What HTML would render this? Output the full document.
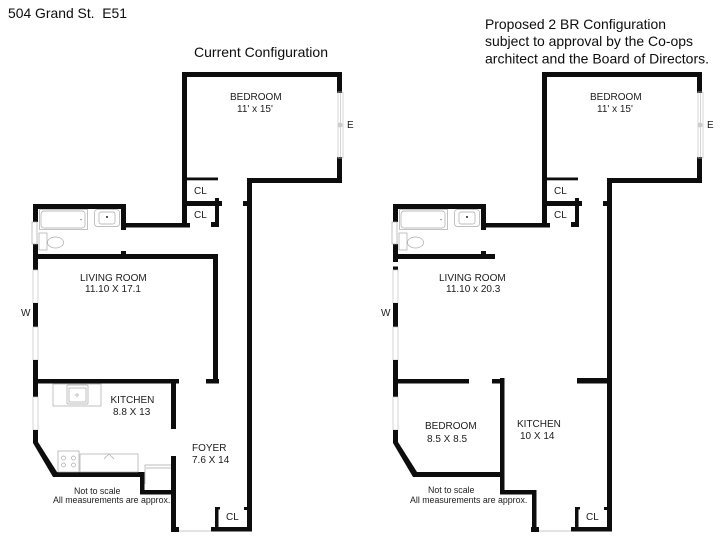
<!DOCTYPE html>
<html lang="en">
<head>
<meta charset="utf-8">
<title>504 Grand St. E51</title>
<style>
html,body{margin:0;padding:0;background:#fff;width:720px;height:540px;overflow:hidden}
svg{display:block}
text{font-family:"Liberation Sans",Arial,sans-serif;fill:#111}
.t{font-size:14px;fill:#0c0c0c}
.r{font-size:10px;fill:#1c1c1c}
.s{font-size:8.8px;fill:#1c1c1c}
.w{fill:#0a0a0a}
.f{fill:none;stroke:#a9a9a9;stroke-width:.7}
.g{fill:none;stroke:#c4c4c4;stroke-width:.7}
</style>
</head>
<body>
<svg width="720" height="540" viewBox="0 0 720 540" xmlns="http://www.w3.org/2000/svg">
<defs>
<filter id="b" filterUnits="userSpaceOnUse" x="0" y="0" width="720" height="540"><feGaussianBlur stdDeviation="0.35"/></filter>
<g id="common">
  <!-- bedroom -->
  <rect class="w" x="182" y="72" width="160" height="5"/>
  <rect class="w" x="182" y="72" width="5" height="155"/>
  <rect class="w" x="337" y="72" width="5" height="21"/>
  <rect class="w" x="337" y="157" width="5" height="26"/>
  <rect class="w" x="247" y="178" width="95" height="5"/>
  <rect class="w" x="247" y="178" width="5" height="353"/>
  <rect class="w" x="243" y="201" width="5" height="5"/>
  <rect class="w" x="187" y="177.500" width="31" height="2.800"/>
  <rect class="w" x="187" y="201" width="35" height="5"/>
  <rect class="w" x="215" y="198" width="4" height="29"/>
  <rect class="w" x="211" y="222" width="8" height="5"/>
  <rect class="w" x="121" y="223" width="69" height="4.500"/>
  <!-- east window -->
  <rect class="g" x="338" y="92" width="5" height="66"/>
  <line class="g" x1="340.500" y1="93" x2="340.500" y2="157"/>
  <circle cx="340" cy="125" r="2.500" fill="#ccc"/>
  <!-- bath -->
  <rect class="w" x="33" y="204" width="93" height="5"/>
  <rect class="w" x="121" y="204" width="5" height="26"/>
  <rect class="w" x="33" y="204" width="5" height="18"/>
  <rect class="w" x="33" y="244" width="5" height="26"/>
  <rect class="w" x="121" y="251" width="5" height="4"/>
  <rect class="f" x="39.500" y="209.500" width="48" height="20"/>
  <rect class="f" x="41" y="211" width="44" height="17" rx="3"/>
  <circle cx="81" cy="219.500" r=".8" fill="#888"/>
  <rect class="f" x="94.500" y="209.500" width="25" height="17" rx="3"/>
  <rect class="f" x="99" y="212" width="16" height="12" rx="2"/>
  <circle cx="107" cy="217" r="1" fill="#222"/>
  <rect class="f" x="32" y="222" width="5" height="22"/>
  <rect class="f" x="39" y="233" width="8" height="17"/>
  <ellipse class="f" cx="55.500" cy="242.500" rx="8" ry="5.500"/>
  <!-- west wall & windows -->
  <rect class="g" x="33" y="270" width="5" height="33"/>
  <rect class="w" x="33" y="303" width="5" height="24"/>
  <rect class="g" x="33" y="327" width="5" height="33"/>
  <rect class="w" x="33" y="360" width="5" height="37"/>
  <rect class="g" x="33" y="397" width="5" height="33"/>
  <rect class="w" x="33" y="430" width="5" height="13"/>
  <polygon class="w" points="33,443 38,442 57,472 57,477 53,477"/>
  <rect class="w" x="53" y="472" width="88" height="5"/>
  <!-- bottom closet -->
  <rect class="w" x="171" y="527" width="8" height="5"/>
  <line x1="179" y1="531" x2="211" y2="531" stroke="#b5b5b5" stroke-width=".8"/>
  <rect class="w" x="211" y="527" width="41" height="4.500"/>
  <rect class="w" x="215" y="507" width="3.500" height="23"/>
  <rect class="w" x="215" y="507" width="5" height="2.500"/>
  <rect class="w" x="244" y="507" width="4" height="3"/>
</g>
</defs>

<rect width="720" height="540" fill="#fff"/>
<g filter="url(#b)">
<text class="t" x="8" y="18" textLength="119" lengthAdjust="spacingAndGlyphs" xml:space="preserve">504 Grand St.  E51</text>
<text class="t" x="194" y="57" textLength="134" lengthAdjust="spacingAndGlyphs">Current Configuration</text>
<text class="t" x="485" y="29" textLength="181" lengthAdjust="spacingAndGlyphs">Proposed 2 BR Configuration</text>
<text class="t" x="485" y="46" textLength="208" lengthAdjust="spacingAndGlyphs">subject to approval by the Co-ops</text>
<text class="t" x="485" y="63.500" textLength="224" lengthAdjust="spacingAndGlyphs">architect and the Board of Directors.</text>

<!-- LEFT PLAN -->
<use href="#common"/>
<rect class="w" x="33" y="254" width="185" height="5"/>
<rect class="w" x="213" y="254" width="5" height="129"/>
<rect class="w" x="206" y="379" width="13" height="4.500"/>
<rect class="w" x="36" y="379" width="143" height="4.500"/>
<rect class="w" x="171" y="382" width="5" height="47"/>
<rect class="w" x="171" y="456" width="5" height="76"/>
<rect class="w" x="140" y="472" width="4.500" height="22"/>
<rect class="w" x="140" y="490" width="36" height="4.500"/>
<!-- kitchen fixtures -->
<rect class="f" x="53" y="384" width="48" height="22"/>
<rect class="f" x="67" y="385" width="21" height="19" rx="1"/>
<rect class="f" x="69" y="388" width="17" height="14"/>
<circle class="f" cx="77" cy="395" r="1.200"/>
<rect class="f" x="58" y="451" width="21" height="21"/>
<circle class="f" cx="63.500" cy="458" r="2"/><circle class="f" cx="73.500" cy="458" r="2"/>
<circle class="f" cx="63.500" cy="465" r="2"/><circle class="f" cx="73.500" cy="465" r="2"/>
<rect class="f" x="80" y="454" width="58" height="18"/>
<polyline class="f" points="104,459 109,454 114,459"/>
<path class="f" d="M145 484V465H171"/>
<line class="f" x1="146" y1="468" x2="171" y2="468"/>

<text class="r" x="230" y="100">BEDROOM</text>
<text class="r" x="237" y="112">11' x 15'</text>
<text class="r" x="347" y="128">E</text>
<text class="r" x="194" y="194">CL</text>
<text class="r" x="194" y="218">CL</text>
<text class="r" x="80" y="281">LIVING ROOM</text>
<text class="r" x="85" y="292">11.10 X 17.1</text>
<text class="r" x="21" y="316">W</text>
<text class="r" x="110.500" y="403">KITCHEN</text>
<text class="r" x="113" y="415">8.8 X 13</text>
<text class="r" x="192" y="451">FOYER</text>
<text class="r" x="192" y="463">7.6 X 14</text>
<text class="s" x="74" y="494">Not to scale</text>
<text class="s" x="53" y="503">All measurements are approx.</text>
<text class="r" x="226" y="520">CL</text>

<!-- RIGHT PLAN -->
<use href="#common" x="360"/>
<rect x="392" y="262" width="7" height="4.500" fill="#fff"/>
<rect class="w" x="393" y="254" width="102" height="5"/>
<rect class="w" x="396" y="379" width="73" height="4.500"/>
<rect class="w" x="492" y="379" width="12" height="4.500"/>
<rect class="w" x="500" y="378" width="4.500" height="116"/>
<rect class="w" x="500" y="490" width="36" height="4.500"/>
<rect class="w" x="532" y="490" width="4.500" height="42"/>
<rect class="w" x="577" y="378" width="35" height="5.500"/>

<text class="r" x="590" y="100">BEDROOM</text>
<text class="r" x="597" y="112">11' x 15'</text>
<text class="r" x="707" y="128">E</text>
<text class="r" x="554" y="194">CL</text>
<text class="r" x="554" y="218">CL</text>
<text class="r" x="439" y="281">LIVING ROOM</text>
<text class="r" x="446" y="292">11.10 x 20.3</text>
<text class="r" x="381" y="316">W</text>
<text class="r" x="425" y="429">BEDROOM</text>
<text class="r" x="427" y="442">8.5 X 8.5</text>
<text class="r" x="517" y="427">KITCHEN</text>
<text class="r" x="520" y="439">10 X 14</text>
<text class="s" x="428" y="493">Not to scale</text>
<text class="s" x="410" y="503">All measurements are approx.</text>
<text class="r" x="586" y="520">CL</text>
</g>
</svg>
</body>
</html>
